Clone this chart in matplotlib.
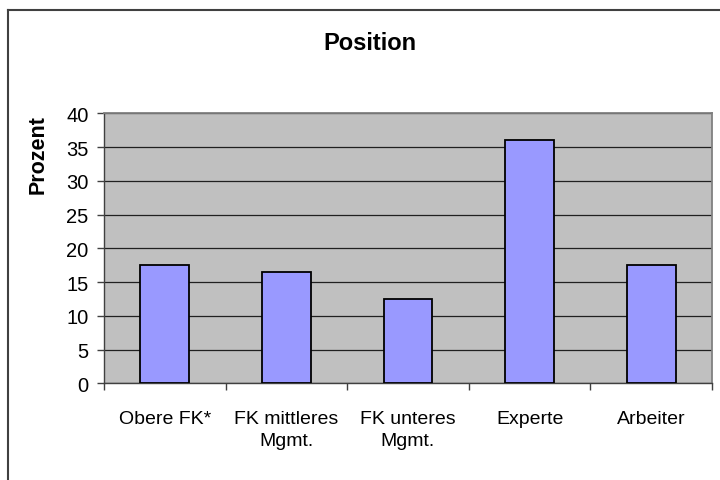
import matplotlib.pyplot as plt
from matplotlib.lines import Line2D

plt.rcParams['font.family'] = ['Liberation Sans', 'DejaVu Sans']

# Werte aus dem Diagramm (Prozent)
categories = ['Obere FK*', 'FK mittleres\nMgmt.', 'FK unteres\nMgmt.', 'Experte', 'Arbeiter']
values = [17.5, 16.5, 12.5, 36.1, 17.5]
y_ticks = [0, 5, 10, 15, 20, 25, 30, 35, 40]

fig = plt.figure(figsize=(7.2, 4.81), dpi=100)
ax = fig.add_axes([104 / 720, 1 - 384.3 / 481, 608 / 720, 270 / 481])

x = list(range(len(categories)))
ax.bar(x, values, width=0.4, color='#9999ff', edgecolor='black', linewidth=1.3, zorder=3)

ax.set_facecolor('#c0c0c0')
ax.set_xlim(-0.5, len(categories) - 0.5)
ax.set_ylim(0, 40)
ax.set_yticks(y_ticks)
ax.yaxis.grid(True, color='#202020', linewidth=0.9, zorder=1)
ax.set_axisbelow(True)

ax.set_xticks(x)
ax.set_xticklabels(categories, fontsize=14, linespacing=1.4)
ax.tick_params(axis='x', length=0, pad=19)
ax.set_xticks([i - 0.5 for i in range(len(categories) + 1)], minor=True)
ax.tick_params(axis='x', which='minor', length=5, width=1, color='#404040', direction='out')
ax.tick_params(axis='y', labelsize=14.5, length=5, width=1, color='#404040', direction='out', pad=6)

for side in ['top', 'right']:
    ax.spines[side].set_color('#808080')
    ax.spines[side].set_linewidth(1.3)
for side in ['left', 'bottom']:
    ax.spines[side].set_color('#404040')
    ax.spines[side].set_linewidth(1.0)

fig.text(38 / 720, 1 - 155 / 481, 'Prozent', ha='center', va='center', rotation=90,
         fontsize=15.5, fontweight='bold')
fig.text(370 / 720, 1 - 43 / 481, 'Position', ha='center', va='center',
         fontsize=17, fontweight='bold')

# Rahmen des Diagrammbereichs
fig.add_artist(Line2D([8 / 720, 8 / 720], [0, 1 - 11 / 481], color='#404040', linewidth=1.5,
                      transform=fig.transFigure))
fig.add_artist(Line2D([8 / 720, 1], [1 - 11 / 481, 1 - 11 / 481], color='#404040', linewidth=1.5,
                      transform=fig.transFigure))

fig.savefig('out.png', dpi=100)
